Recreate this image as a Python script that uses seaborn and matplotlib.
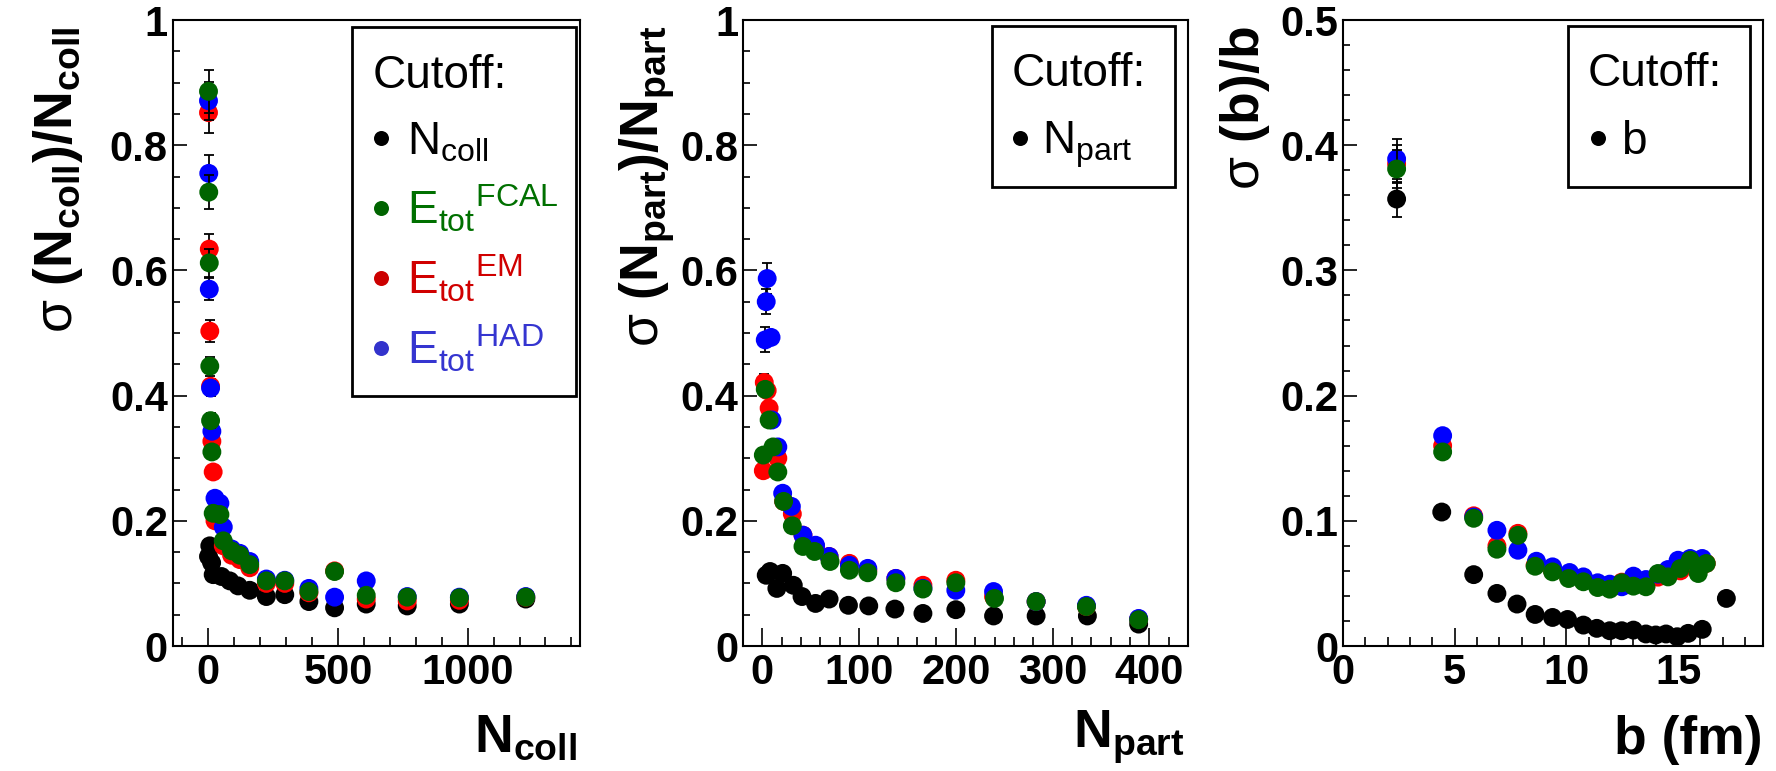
import numpy as np
import pandas as pd
import matplotlib
matplotlib.use("Agg")
import matplotlib.pyplot as plt
import seaborn as sns
from matplotlib.patches import Rectangle
from matplotlib.lines import Line2D
from matplotlib.ticker import MultipleLocator

# ---------------- data: panel 1 (N_coll) ----------------
NCOLL_BLACK_X = [1, 6, 13, 19, 51, 83, 115, 160, 224, 295, 388, 487, 609, 767, 968, 1224]
NCOLL_BLACK_Y = [0.143, 0.160, 0.133, 0.114, 0.111, 0.104, 0.096, 0.089, 0.079, 0.082, 0.071, 0.061, 0.067, 0.064, 0.067, 0.075]
NCOLL_BLACK_E = [0, 0, 0, 0, 0, 0, 0, 0, 0, 0, 0, 0, 0, 0, 0, 0]

NCOLL_RED_X = [1, 4, 6, 9, 14, 19, 26, 58, 90, 122, 160, 224, 295, 388, 487, 609, 767, 968, 1224]
NCOLL_RED_Y = [0.852, 0.634, 0.503, 0.415, 0.327, 0.278, 0.200, 0.160, 0.145, 0.138, 0.125, 0.100, 0.100, 0.085, 0.120, 0.075, 0.072, 0.073, 0.078]
NCOLL_RED_E = [0.032, 0.024, 0.018, 0.012, 0, 0, 0, 0, 0, 0, 0, 0, 0, 0, 0, 0, 0, 0, 0]

NCOLL_BLUE_X = [1, 2, 4, 9, 14, 26, 45, 58, 90, 122, 160, 224, 295, 388, 487, 609, 767, 968, 1224]
NCOLL_BLUE_Y = [0.871, 0.755, 0.570, 0.412, 0.343, 0.236, 0.228, 0.190, 0.155, 0.148, 0.135, 0.107, 0.105, 0.092, 0.078, 0.104, 0.079, 0.078, 0.079]
NCOLL_BLUE_E = [0.030, 0.030, 0.018, 0.012, 0, 0, 0, 0, 0, 0, 0, 0, 0, 0, 0, 0, 0, 0, 0]

NCOLL_GREEN_X = [1, 2, 4, 6, 9, 14, 19, 45, 58, 90, 122, 160, 224, 295, 388, 487, 609, 767, 968, 1224]
NCOLL_GREEN_Y = [0.886, 0.725, 0.612, 0.447, 0.360, 0.310, 0.212, 0.210, 0.168, 0.152, 0.145, 0.130, 0.104, 0.104, 0.087, 0.119, 0.081, 0.078, 0.077, 0.078]
NCOLL_GREEN_E = [0.034, 0.027, 0.022, 0.015, 0.012, 0, 0, 0, 0, 0, 0, 0, 0, 0, 0, 0, 0, 0, 0, 0]

# ---------------- data: panel 2 (N_part) ----------------
NPART_BLACK_X = [4, 8, 15, 21, 32, 41, 55, 69, 89, 110, 137, 166, 200, 239, 283, 336, 389]
NPART_BLACK_Y = [0.113, 0.119, 0.092, 0.116, 0.097, 0.079, 0.068, 0.075, 0.065, 0.064, 0.059, 0.052, 0.058, 0.048, 0.048, 0.048, 0.035]
NPART_BLACK_E = [0, 0, 0, 0, 0, 0, 0, 0, 0, 0, 0, 0, 0, 0, 0, 0, 0]

NPART_RED_X = [2, 5, 7, 1, 16, 22, 31, 42, 55, 69, 90, 109, 138, 166, 200, 239, 283, 335, 389]
NPART_RED_Y = [0.421, 0.408, 0.380, 0.280, 0.300, 0.231, 0.211, 0.177, 0.159, 0.143, 0.132, 0.121, 0.108, 0.097, 0.105, 0.079, 0.071, 0.063, 0.043]
NPART_RED_E = [0.013, 0, 0, 0, 0, 0, 0, 0, 0, 0, 0, 0, 0, 0, 0, 0, 0, 0, 0]

NPART_BLUE_X = [5, 4, 3, 9, 10, 16, 21, 30, 42, 55, 69, 90, 109, 138, 166, 200, 239, 283, 335, 389]
NPART_BLUE_Y = [0.587, 0.550, 0.489, 0.493, 0.361, 0.318, 0.244, 0.223, 0.177, 0.161, 0.143, 0.129, 0.124, 0.108, 0.092, 0.089, 0.087, 0.071, 0.065, 0.044]
NPART_BLUE_E = [0.025, 0.020, 0.020, 0, 0, 0, 0, 0, 0, 0, 0, 0, 0, 0, 0, 0, 0, 0, 0, 0]

NPART_GREEN_X = [3, 7, 1, 11, 16, 22, 31, 42, 54, 70, 90, 109, 138, 166, 200, 240, 283, 335, 389]
NPART_GREEN_Y = [0.410, 0.361, 0.305, 0.318, 0.278, 0.231, 0.192, 0.159, 0.151, 0.135, 0.121, 0.117, 0.101, 0.091, 0.101, 0.076, 0.071, 0.063, 0.042]
NPART_GREEN_E = [0.010, 0, 0, 0, 0, 0, 0, 0, 0, 0, 0, 0, 0, 0, 0, 0, 0, 0, 0]

# ---------------- data: panel 3 (b) ----------------
B_BLACK_X = [2.4, 4.42, 5.85, 6.89, 7.79, 8.6, 9.38, 10.05, 10.76, 11.36, 11.94, 12.48, 13.0, 13.56, 14.0, 14.46, 14.96, 15.45, 16.08, 17.16]
B_BLACK_Y = [0.357, 0.107, 0.057, 0.042, 0.0335, 0.0252, 0.0228, 0.0212, 0.0167, 0.0141, 0.0122, 0.0122, 0.0127, 0.0096, 0.0088, 0.0096, 0.0074, 0.0101, 0.0133, 0.038]
B_BLACK_E = [0.014, 0, 0, 0, 0, 0, 0, 0, 0, 0, 0, 0, 0, 0, 0, 0, 0, 0, 0, 0]

B_RED_X = [2.4, 4.46, 5.85, 6.89, 7.83, 8.6, 9.38, 10.1, 10.76, 11.4, 11.94, 12.48, 13.0, 13.56, 14.1, 14.55, 15.1, 15.54, 15.9, 16.26]
B_RED_Y = [0.385, 0.160, 0.104, 0.080, 0.090, 0.0645, 0.060, 0.055, 0.052, 0.048, 0.046, 0.051, 0.049, 0.048, 0.055, 0.056, 0.060, 0.066, 0.060, 0.066]
B_RED_E = [0.015, 0, 0, 0, 0, 0, 0, 0, 0, 0, 0, 0, 0, 0, 0, 0, 0, 0, 0, 0]

B_BLUE_X = [2.4, 4.46, 5.85, 6.89, 7.83, 8.66, 9.38, 10.14, 10.76, 11.4, 11.94, 12.48, 13.0, 13.56, 14.1, 14.55, 15.0, 15.54, 16.08]
B_BLUE_Y = [0.389, 0.168, 0.103, 0.0924, 0.0765, 0.0677, 0.0632, 0.0587, 0.0552, 0.0505, 0.0494, 0.0473, 0.0558, 0.0531, 0.0574, 0.0611, 0.0685, 0.0699, 0.0699]
B_BLUE_E = [0.016, 0, 0, 0, 0, 0, 0, 0, 0, 0, 0, 0, 0, 0, 0, 0, 0, 0, 0]

B_GREEN_X = [2.4, 4.46, 5.85, 6.89, 7.83, 8.6, 9.38, 10.1, 10.76, 11.4, 11.94, 12.48, 13.0, 13.56, 14.1, 14.55, 15.1, 15.54, 15.9, 16.26]
B_GREEN_Y = [0.381, 0.155, 0.102, 0.0773, 0.0884, 0.0637, 0.0592, 0.0539, 0.0513, 0.0467, 0.0454, 0.0505, 0.0478, 0.0473, 0.0579, 0.0552, 0.0619, 0.0685, 0.0579, 0.0659]
B_GREEN_E = [0.015, 0, 0, 0, 0, 0, 0, 0, 0, 0, 0, 0, 0, 0, 0, 0, 0, 0, 0, 0]

# ---------------- ticks / labels ----------------
Y_TICKS_12 = [0, 0.2, 0.4, 0.6, 0.8, 1.0]
Y_TICKLABELS_12 = ["0", "0.2", "0.4", "0.6", "0.8", "1"]
Y_TICKS_3 = [0, 0.1, 0.2, 0.3, 0.4, 0.5]
Y_TICKLABELS_3 = ["0", "0.1", "0.2", "0.3", "0.4", "0.5"]
X_TICKS_1 = [0, 500, 1000]
X_TICKLABELS_1 = ["0", "500", "1000"]
X_TICKS_2 = [0, 100, 200, 300, 400]
X_TICKLABELS_2 = ["0", "100", "200", "300", "400"]
X_TICKS_3 = [0, 5, 10, 15]
X_TICKLABELS_3 = ["0", "5", "10", "15"]

C_BLACK = "#000000"
C_RED = "#ff0000"
C_BLUE = "#0000ff"
C_GREEN = "#006400"
T_GREEN = "#007000"
T_RED = "#d00000"
T_BLUE = "#3535d0"

sns.set_style("ticks")
plt.rcParams['font.family'] = ['Liberation Sans', 'DejaVu Sans']
plt.rcParams['mathtext.fontset'] = 'custom'
plt.rcParams['mathtext.rm'] = 'Liberation Sans'
plt.rcParams['mathtext.bf'] = 'Liberation Sans:bold'
plt.rcParams['mathtext.it'] = 'Liberation Sans:italic'
plt.rcParams['mathtext.sf'] = 'Liberation Sans'
plt.rcParams['axes.linewidth'] = 1.5
plt.rcParams['axes.edgecolor'] = 'black'
plt.rcParams['xtick.color'] = 'black'
plt.rcParams['ytick.color'] = 'black'
plt.rcParams['text.color'] = 'black'
plt.rcParams['axes.labelcolor'] = 'black'

W, H = 1776, 771
fig = plt.figure(figsize=(W / 100, H / 100), dpi=100)
fig.patch.set_facecolor('white')


def px_axes(x0, x1, ytop, ybot):
    return fig.add_axes([x0 / W, 1 - ybot / H, (x1 - x0) / W, (ybot - ytop) / H])


ax1 = px_axes(172.7, 580, 20, 646)
ax2 = px_axes(743, 1188, 20, 646)
ax3 = px_axes(1343, 1763, 20, 646)


def draw_series(ax, x, y, e, color, z):
    df = pd.DataFrame({'x': x, 'y': y, 'e': e})
    sel = df[df['e'] > 0]
    if len(sel):
        ax.errorbar(sel['x'], sel['y'], yerr=sel['e'], fmt='none', ecolor='black',
                    elinewidth=1.3, capsize=3.3, capthick=1.3, zorder=z)
    sns.scatterplot(data=df, x='x', y='y', color=color, s=185, edgecolor='none',
                    linewidth=0, ax=ax, zorder=z + 0.5, legend=False)


panels = [
    (ax1, [(NCOLL_BLACK_X, NCOLL_BLACK_Y, NCOLL_BLACK_E, C_BLACK),
           (NCOLL_RED_X, NCOLL_RED_Y, NCOLL_RED_E, C_RED),
           (NCOLL_BLUE_X, NCOLL_BLUE_Y, NCOLL_BLUE_E, C_BLUE),
           (NCOLL_GREEN_X, NCOLL_GREEN_Y, NCOLL_GREEN_E, C_GREEN)]),
    (ax2, [(NPART_BLACK_X, NPART_BLACK_Y, NPART_BLACK_E, C_BLACK),
           (NPART_RED_X, NPART_RED_Y, NPART_RED_E, C_RED),
           (NPART_BLUE_X, NPART_BLUE_Y, NPART_BLUE_E, C_BLUE),
           (NPART_GREEN_X, NPART_GREEN_Y, NPART_GREEN_E, C_GREEN)]),
    (ax3, [(B_BLACK_X, B_BLACK_Y, B_BLACK_E, C_BLACK),
           (B_RED_X, B_RED_Y, B_RED_E, C_RED),
           (B_BLUE_X, B_BLUE_Y, B_BLUE_E, C_BLUE),
           (B_GREEN_X, B_GREEN_Y, B_GREEN_E, C_GREEN)]),
]
for ax, series in panels:
    for i, (x, y, e, c) in enumerate(series):
        draw_series(ax, x, y, e, c, 3 + 2 * i)


def style(ax, xlim, ylim, xt, xtl, xminor, yt, ytl, yminor):
    ax.set_xlim(*xlim)
    ax.set_ylim(*ylim)
    ax.set_xticks(xt)
    ax.set_xticklabels(xtl, fontsize=30, fontweight='bold', color='black')
    ax.set_yticks(yt)
    ax.set_yticklabels(ytl, fontsize=30, fontweight='bold', color='black')
    ax.xaxis.set_minor_locator(MultipleLocator(xminor))
    ax.yaxis.set_minor_locator(MultipleLocator(yminor))
    ax.tick_params(axis='both', which='both', direction='in', top=False, right=False,
                   width=1.2, color='black', labelcolor='black')
    ax.tick_params(axis='x', which='major', length=12.7, pad=5)
    ax.tick_params(axis='x', which='minor', length=6.7)
    ax.tick_params(axis='y', which='major', length=10, pad=3.5)
    ax.tick_params(axis='y', which='minor', length=5.2)
    for s in ax.spines.values():
        s.set_visible(True)
        s.set_linewidth(1.5)
        s.set_color('black')
    ax.set_facecolor('white')
    ax.grid(False)


style(ax1, (-137, 1433), (0, 1), X_TICKS_1, X_TICKLABELS_1, 100, Y_TICKS_12, Y_TICKLABELS_12, 0.05)
style(ax2, (-20, 440), (0, 1), X_TICKS_2, X_TICKLABELS_2, 20, Y_TICKS_12, Y_TICKLABELS_12, 0.05)
style(ax3, (0, 18.8), (0, 0.5), X_TICKS_3, X_TICKLABELS_3, 1, Y_TICKS_3, Y_TICKLABELS_3, 0.02)

# axis titles
LAB = 38.5
ylabels = [
    (ax1, r"$\mathrm{\sigma}$ (N$_{\mathbf{coll}}$)/N$_{\mathbf{coll}}$", -0.215),
    (ax2, r"$\mathrm{\sigma}$ (N$_{\mathbf{part}}$)/N$_{\mathbf{part}}$", -0.148),
    (ax3, r"$\mathrm{\sigma}$ (b)/b", -0.169),
]
for ax, txt, xc in ylabels:
    ax.set_ylabel(txt, fontsize=LAB, fontweight='bold', loc='top', color='black')
    ax.yaxis.set_label_coords(xc, 0.99)

xlabels = [
    (ax1, r"N$_{\mathbf{coll}}$", 0.992, -0.169),
    (ax2, r"N$_{\mathbf{part}}$", 0.993, -0.163),
    (ax3, "b (fm)", 0.998, -0.172),
]
for ax, txt, xr, yb in xlabels:
    ax.set_xlabel(txt, fontsize=LAB, fontweight='bold', loc='right', color='black')
    ax.xaxis.set_label_coords(xr, yb)
    ax.xaxis.label.set_va('baseline')

# legends (ROOT-style boxes)
LEG = 33


def legend_box(ax, x0, x1, ytop, ybot, tx, tbase, entries):
    ax.add_patch(Rectangle((x0, ybot), x1 - x0, ytop - ybot, transform=ax.transAxes,
                           facecolor='white', edgecolor='black', linewidth=2.0, zorder=30,
                           clip_on=False))
    ax.text(tx, tbase, "Cutoff:", transform=ax.transAxes, fontsize=LEG, ha='left',
            va='baseline', zorder=31)
    for mx, my, txx, lab, mc, tc in entries:
        ax.add_line(Line2D([mx], [my], transform=ax.transAxes, marker='o', markersize=10.8,
                           color=mc, markeredgewidth=0, linestyle='none', zorder=31,
                           clip_on=False))
        ax.text(txx, my - 0.026, lab, transform=ax.transAxes, fontsize=LEG, ha='left',
                va='baseline', color=tc, zorder=31)


legend_box(ax1, 0.440, 0.990, 0.989, 0.399, 0.491, 0.891, [
    (0.511, 0.811, 0.575, r"N$_{\mathrm{coll}}$", C_BLACK, C_BLACK),
    (0.511, 0.700, 0.575, r"E$_{\mathrm{tot}}{}^{\mathrm{FCAL}}$", C_GREEN, T_GREEN),
    (0.511, 0.588, 0.575, r"E$_{\mathrm{tot}}{}^{\mathrm{EM}}$", "#cc0000", T_RED),
    (0.511, 0.476, 0.575, r"E$_{\mathrm{tot}}{}^{\mathrm{HAD}}$", "#3333cc", T_BLUE),
])
legend_box(ax2, 0.559, 0.971, 0.990, 0.734, 0.604, 0.894, [
    (0.622, 0.812, 0.671, r"N$_{\mathrm{part}}$", C_BLACK, C_BLACK),
])
legend_box(ax3, 0.536, 0.970, 0.990, 0.734, 0.583, 0.894, [
    (0.606, 0.812, 0.661, "b", C_BLACK, C_BLACK),
])

fig.savefig("out.png", dpi=100, facecolor='white')
